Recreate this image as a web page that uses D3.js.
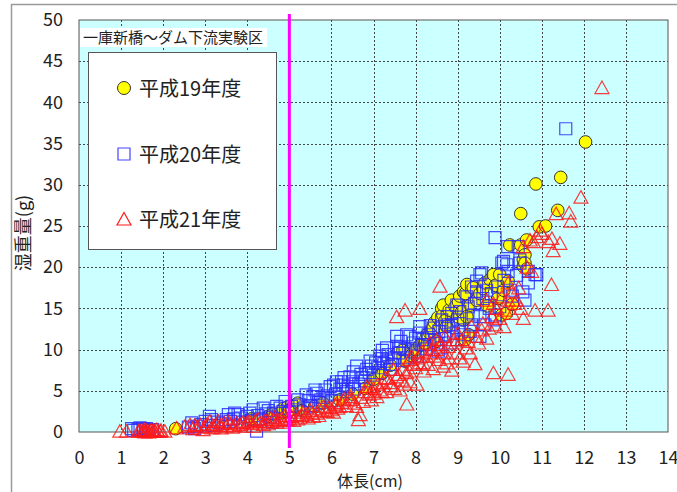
<!DOCTYPE html>
<html>
<head>
<meta charset="utf-8">
<script src="https://cdn.jsdelivr.net/npm/d3@7"></script>
<style>
  html, body { margin: 0; padding: 0; background: #fff; }
  svg text { font-family: "Noto Sans CJK JP", "Noto Sans", sans-serif; fill: #222; }
</style>
</head>
<body>
<div id="chart"></div>
<script>
// 体長(cm), 湿重量(g)
const h19 = [
  [2.3, 0.4], [4.1, 1.6], [4.5, 1.9], [4.6, 2.2], [4.8, 2.3], [4.85, 2.8], [4.95, 3.0], [5.0, 2.6],
  [5.1, 3.2], [5.2, 3.5], [5.3, 2.6], [5.6, 3.1], [5.8, 3.5], [6.2, 3.9], [6.5, 4.6], [6.8, 5.3],
  [7.0, 6.4], [7.2, 7.1], [7.4, 8.1], [7.58, 9.6], [7.7, 9.9], [7.75, 8.6], [7.9, 9.3], [8.0, 10.0],
  [8.1, 10.5], [8.22, 10.8], [8.27, 11.8], [8.34, 12.0], [8.4, 12.6], [8.45, 13.3], [8.5, 11.0],
  [8.53, 13.9], [8.58, 12.8], [8.62, 15.0], [8.65, 14.2], [8.66, 15.4], [8.7, 13.5], [8.74, 12.8],
  [8.8, 14.8], [8.85, 16.0], [8.94, 15.2], [9.0, 14.0], [9.02, 15.8], [9.05, 16.5], [9.1, 14.6],
  [9.14, 13.6], [9.14, 17.0], [9.18, 11.2], [9.18, 16.8], [9.22, 17.9], [9.22, 14.0], [9.26, 11.8],
  [9.3, 15.4], [9.37, 17.5], [9.45, 16.0], [9.53, 16.8], [9.6, 17.4], [9.65, 18.1], [9.7, 15.3],
  [9.77, 18.5], [9.85, 19.1], [9.9, 17.8], [9.95, 16.2], [10.0, 19.1], [10.05, 14.2], [10.1, 17.2],
  [10.16, 14.4], [10.2, 18.3], [10.24, 22.7], [10.3, 15.5], [10.5, 22.7], [10.5, 26.5], [10.56, 20.1],
  [10.56, 20.9], [10.6, 21.5], [10.6, 20.5], [10.64, 23.3], [10.65, 19.8], [10.86, 30.1], [10.94, 24.9],
  [11.09, 25.0], [11.38, 26.9], [11.45, 30.9], [12.04, 35.2]
];
const h20 = [
  [1.25, 0.4], [1.3, 0.2], [1.4, 0.3], [1.45, 0.5], [1.52, 0.4], [1.6, 0.4], [1.65, 0.2], [1.75, 0.3],
  [2.6, 0.6], [2.68, 1.1], [2.75, 0.4], [2.8, 0.7], [2.9, 0.9], [3.0, 1.3], [3.1, 1.9], [3.15, 1.5],
  [3.2, 0.8], [3.3, 1.2], [3.4, 1.0], [3.5, 1.5], [3.55, 2.1], [3.6, 1.3], [3.67, 1.6], [3.7, 2.3],
  [3.78, 2.1], [3.83, 1.7], [3.9, 1.2], [4.0, 1.9], [4.06, 2.3], [4.1, 1.4], [4.14, 2.7], [4.22, 0.1],
  [4.25, 2.0], [4.3, 1.6], [4.38, 2.9], [4.45, 2.2], [4.5, 2.6], [4.55, 1.8], [4.6, 1.2], [4.62, 2.3],
  [4.7, 3.1], [4.78, 2.9], [4.85, 2.5], [4.9, 3.7], [5.0, 2.4], [5.05, 3.1], [5.15, 2.7], [5.2, 3.9],
  [5.25, 3.3], [5.35, 2.9], [5.4, 4.5], [5.45, 3.8], [5.5, 3.2], [5.56, 4.3], [5.61, 5.1], [5.65, 4.7],
  [5.7, 3.6], [5.75, 3.9], [5.8, 4.2], [5.85, 5.1], [5.9, 4.4], [5.97, 5.5], [6.0, 3.8], [6.05, 5.7],
  [6.1, 4.6], [6.12, 6.1], [6.2, 5.2], [6.24, 6.1], [6.28, 5.7], [6.3, 6.6], [6.35, 4.9], [6.4, 5.5],
  [6.44, 6.7], [6.5, 6.1], [6.52, 7.3], [6.55, 5.2], [6.6, 8.0], [6.65, 5.8], [6.7, 7.0], [6.75, 6.6],
  [6.8, 6.2], [6.84, 7.6], [6.9, 7.2], [6.92, 8.6], [6.95, 8.0], [7.0, 6.9], [7.05, 8.4], [7.1, 7.8],
  [7.15, 9.2], [7.15, 7.2], [7.2, 8.9], [7.21, 9.9], [7.25, 8.3], [7.31, 8.6], [7.31, 10.2], [7.35, 9.4],
  [7.4, 7.6], [7.45, 8.2], [7.5, 9.0], [7.55, 11.6], [7.55, 10.4], [7.6, 9.6], [7.63, 10.2], [7.65, 11.0],
  [7.7, 8.7], [7.75, 10.0], [7.79, 11.8], [7.8, 9.0], [7.87, 11.6], [7.9, 9.8], [7.95, 10.8], [7.99, 9.6],
  [8.0, 11.4], [8.05, 9.2], [8.1, 12.0], [8.1, 12.8], [8.15, 10.6], [8.18, 11.2], [8.25, 10.1], [8.3, 11.8],
  [8.34, 10.6], [8.35, 12.9], [8.42, 12.6], [8.45, 11.2], [8.5, 10.8], [8.54, 9.8], [8.55, 12.2], [8.6, 10.2],
  [8.62, 13.6], [8.7, 11.8], [8.7, 12.8], [8.75, 14.0], [8.78, 13.0], [8.82, 10.8], [8.86, 14.4], [8.86, 13.0],
  [8.9, 12.0], [8.98, 11.2], [8.98, 15.4], [9.0, 13.6], [9.05, 14.6], [9.1, 12.4], [9.15, 11.8], [9.22, 16.4],
  [9.25, 15.2], [9.3, 12.2], [9.33, 17.6], [9.33, 13.0], [9.37, 14.2], [9.4, 15.6], [9.45, 17.0], [9.45, 18.3],
  [9.53, 19.1], [9.53, 14.0], [9.53, 11.6], [9.57, 19.3], [9.6, 16.2], [9.65, 13.0], [9.69, 17.2], [9.75, 15.0],
  [9.8, 16.8], [9.89, 14.2], [9.89, 13.6], [9.89, 23.6], [9.95, 17.6], [10.0, 15.2], [10.05, 20.5],
  [10.09, 20.7], [10.1, 18.4], [10.17, 20.3], [10.2, 19.5], [10.19, 22.5], [10.25, 17.2], [10.3, 16.5],
  [10.4, 19.0], [10.44, 22.5], [10.48, 20.5], [10.48, 20.9], [10.55, 17.0], [10.6, 16.0], [10.68, 18.1],
  [10.68, 19.5], [10.84, 19.1], [10.88, 19.1], [11.57, 36.8]
];
const h21 = [
  [0.97, 0.1], [1.13, 0.1], [1.41, 0.1], [1.45, 0.2], [1.5, 0.1], [1.53, 0.1], [1.55, 0.3], [1.57, 0.0],
  [1.6, 0.1], [1.62, 0.2], [1.66, 0.0], [1.69, 0.1], [1.72, 0.3], [1.75, 0.1], [1.78, 0.2], [1.81, 0.1],
  [1.85, 0.3], [1.88, 0.1], [1.93, 0.1], [1.95, 0.2], [2.04, 0.1],
  [2.32, 0.5], [2.52, 0.7], [2.64, 0.9], [2.7, 0.4], [2.75, 0.8], [2.8, 0.6], [2.88, 0.9], [2.95, 0.3],
  [3.0, 0.7], [3.05, 1.0], [3.11, 1.3], [3.15, 0.5], [3.2, 0.6], [3.25, 0.9], [3.31, 1.3], [3.35, 0.8],
  [3.38, 0.5], [3.45, 1.1], [3.51, 0.7], [3.55, 1.2], [3.6, 1.0], [3.65, 0.6], [3.7, 0.8], [3.75, 1.1],
  [3.83, 0.9], [3.9, 1.2], [3.95, 0.7], [3.99, 1.1], [4.05, 1.3], [4.1, 1.0], [4.15, 0.7], [4.2, 1.4],
  [4.25, 1.6], [4.3, 1.1], [4.38, 0.9], [4.4, 1.3], [4.46, 1.3], [4.5, 1.0], [4.55, 1.6], [4.62, 1.5],
  [4.65, 1.8], [4.7, 1.2], [4.75, 1.4], [4.82, 1.7], [4.85, 1.2], [4.9, 2.0], [4.94, 1.5], [5.0, 1.6],
  [5.05, 1.9], [5.1, 1.4], [5.17, 2.1], [5.2, 1.6], [5.25, 1.8], [5.3, 2.0], [5.32, 2.4], [5.41, 2.1],
  [5.45, 1.7], [5.5, 2.6], [5.55, 2.3], [5.57, 1.9], [5.65, 2.3], [5.7, 2.0], [5.72, 2.8], [5.81, 3.1],
  [5.85, 2.6], [5.9, 2.5], [5.95, 3.0], [6.0, 2.7], [6.05, 2.4], [6.09, 3.3], [6.13, 3.5], [6.15, 2.9],
  [6.2, 3.1], [6.25, 3.6], [6.3, 4.0], [6.35, 3.2], [6.44, 3.9], [6.44, 4.3], [6.5, 4.0], [6.55, 3.5],
  [6.6, 3.1], [6.64, 1.5], [6.68, 2.1], [6.7, 4.2], [6.76, 3.7], [6.8, 4.9], [6.84, 5.5], [6.9, 4.6],
  [6.92, 5.5], [6.95, 3.9], [7.0, 4.7], [7.0, 5.3], [7.08, 4.3], [7.1, 5.8], [7.15, 5.1], [7.2, 4.9],
  [7.22, 6.0], [7.28, 6.6], [7.31, 4.9], [7.35, 6.5], [7.4, 6.0], [7.42, 5.6], [7.47, 7.6], [7.5, 5.3],
  [7.55, 6.7], [7.55, 14.0], [7.6, 7.0], [7.63, 5.1], [7.67, 6.3], [7.7, 7.6], [7.75, 14.8], [7.75, 5.8],
  [7.79, 3.4], [7.79, 7.2], [7.85, 7.4], [7.87, 6.1], [7.87, 8.8], [7.9, 9.2], [7.95, 8.2], [8.0, 7.8],
  [8.03, 5.8], [8.05, 9.0], [8.1, 8.4], [8.1, 15.0], [8.15, 9.8], [8.18, 8.4], [8.2, 7.4], [8.26, 9.2],
  [8.3, 8.2], [8.34, 9.6], [8.34, 10.8], [8.4, 10.0], [8.42, 7.7], [8.45, 9.2], [8.5, 10.0], [8.5, 11.2],
  [8.55, 8.8], [8.58, 17.7], [8.6, 10.6], [8.66, 9.6], [8.66, 8.0], [8.7, 11.6], [8.74, 8.4], [8.78, 10.4],
  [8.8, 9.0], [8.86, 7.5], [8.9, 11.2], [8.95, 10.8], [8.98, 9.6], [9.0, 12.0], [9.05, 9.0], [9.1, 11.2],
  [9.13, 8.6], [9.2, 10.2], [9.25, 11.0], [9.3, 9.6], [9.33, 12.8], [9.41, 8.3], [9.45, 11.6], [9.5, 10.8],
  [9.57, 12.4], [9.6, 13.2], [9.69, 11.4], [9.69, 16.0], [9.75, 12.6], [9.81, 14.0], [9.85, 7.2],
  [9.85, 15.6], [9.9, 13.0], [9.93, 15.0], [10.0, 13.8], [10.05, 16.4], [10.1, 12.8], [10.13, 14.8],
  [10.2, 7.0], [10.2, 16.0], [10.2, 18.1], [10.28, 17.0], [10.3, 14.4], [10.36, 15.6], [10.4, 16.0],
  [10.45, 17.5], [10.5, 15.0], [10.56, 13.8], [10.56, 22.5], [10.65, 20.0], [10.72, 23.3], [10.76, 19.5],
  [10.8, 23.1], [10.84, 14.8], [10.88, 23.7], [10.96, 24.5], [11.0, 24.1], [11.15, 14.8], [11.16, 23.1],
  [11.23, 17.9], [11.24, 23.5], [11.27, 22.0], [11.34, 26.5], [11.43, 22.9], [11.65, 26.6], [11.69, 25.6],
  [11.93, 28.5], [12.43, 41.8]
];
const xTicks = d3.range(0, 15, 1);
const yTicks = d3.range(0, 55, 5);
const seriesNames = ['平成19年度', '平成20年度', '平成21年度'];
const areaName = '一庫新橋～ダム下流実験区';
const refLength = 5;

const W = 677, H = 492;
const plotL = 79, plotR = 668, plotT = 20, plotB = 432;

const svg = d3.select('#chart').append('svg').attr('width', W).attr('height', H);
svg.append('rect').attr('x', 11.5).attr('y', 4.5).attr('width', W + 20).attr('height', H + 20)
  .attr('fill', '#fff').attr('stroke', '#9a9a9a').attr('stroke-width', 1.5);

const x = d3.scaleLinear().domain([0, 14]).range([plotL, plotR]);
const y = d3.scaleLinear().domain([0, 50]).range([plotB, plotT]);

svg.append('rect').attr('x', plotL).attr('y', plotT).attr('width', plotR - plotL).attr('height', plotB - plotT)
  .attr('fill', '#ccffff');

// grid
const grid = svg.append('g').attr('stroke', '#444').attr('stroke-dasharray', '2,2').attr('stroke-width', 1);
grid.selectAll('.gx').data(xTicks.slice(1, -1)).join('line')
  .attr('x1', (d) => Math.round(x(d)) + 0.5).attr('x2', (d) => Math.round(x(d)) + 0.5)
  .attr('y1', plotT).attr('y2', plotB);
grid.selectAll('.gy').data(yTicks.slice(1, -1)).join('line')
  .attr('x1', plotL).attr('x2', plotR)
  .attr('y1', (d) => Math.round(y(d)) + 0.5).attr('y2', (d) => Math.round(y(d)) + 0.5);

svg.append('rect').attr('x', plotL).attr('y', plotT).attr('width', plotR - plotL).attr('height', plotB - plotT)
  .attr('fill', 'none').attr('stroke', '#555').attr('stroke-width', 1);

// axes
const xAxis = svg.append('g').attr('transform', `translate(0,${plotB})`)
  .call(d3.axisBottom(x).tickValues(xTicks).tickSize(0).tickPadding(19).tickFormat(d3.format('d')));
const yAxis = svg.append('g').attr('transform', `translate(${plotL},0)`)
  .call(d3.axisLeft(y).tickValues(yTicks).tickSize(0).tickPadding(16).tickFormat(d3.format('d')));
[xAxis, yAxis].forEach((a) => {
  a.select('.domain').remove();
  a.selectAll('text').attr('font-size', 18).attr('fill', '#222')
    .attr('font-family', '"Liberation Sans", Arial, sans-serif');
});

const tri = 'M0,-6.5L7,6L-7,6Z';
const sq = d3.symbol().type(d3.symbolSquare).size(144)();

const g19 = svg.append('g');
g19.selectAll('circle').data(h19).join('circle')
  .attr('cx', (d) => x(d[0])).attr('cy', (d) => y(d[1])).attr('r', 6.3)
  .attr('fill', '#ffff00').attr('stroke', '#333').attr('stroke-width', 1);

const g20 = svg.append('g');
g20.selectAll('path').data(h20).join('path')
  .attr('d', sq).attr('transform', (d) => `translate(${x(d[0])},${y(d[1])})`)
  .attr('fill', 'none').attr('stroke', '#2a2aff').attr('stroke-opacity', 0.85).attr('stroke-width', 1.2);

const g21 = svg.append('g');
g21.selectAll('path').data(h21).join('path')
  .attr('d', tri).attr('transform', (d) => `translate(${x(d[0])},${y(d[1])})`)
  .attr('fill', 'none').attr('stroke', '#ff1a1a').attr('stroke-opacity', 0.85).attr('stroke-width', 1.2);

// 5cm reference line
svg.append('line').attr('x1', x(refLength)).attr('x2', x(refLength))
  .attr('y1', y(50) - 6).attr('y2', y(0) + 16)
  .attr('stroke', '#ff00ff').attr('stroke-width', 3);

// area label
svg.append('rect').attr('x', 80).attr('y', 28).attr('width', 187).attr('height', 19).attr('fill', '#fff');
svg.append('text').attr('x', 83).attr('y', 43).attr('font-size', 15).text(areaName);

// legend
const lg = svg.append('g');
lg.append('rect').attr('x', 88.5).attr('y', 52.5).attr('width', 188).attr('height', 197)
  .attr('fill', '#fff').attr('stroke', '#555');
const ly = [88, 154, 219];
lg.append('circle').attr('cx', 124).attr('cy', ly[0]).attr('r', 6.5)
  .attr('fill', '#ffff00').attr('stroke', '#333');
lg.append('path').attr('d', sq).attr('transform', `translate(124,${ly[1]})`)
  .attr('fill', 'none').attr('stroke', '#4444ff').attr('stroke-width', 1.2);
lg.append('path').attr('d', tri).attr('transform', `translate(124,${ly[2]})`)
  .attr('fill', 'none').attr('stroke', '#ff1a1a').attr('stroke-width', 1.2);
lg.selectAll('text.lab').data(seriesNames).join('text')
  .attr('x', 139).attr('y', (d, i) => ly[i] + 8).attr('font-size', 20).text((d) => d);

// axis titles
svg.append('text').attr('x', 370).attr('y', 487).attr('text-anchor', 'middle').attr('font-size', 16).text('体長(cm)');
svg.append('text').attr('transform', 'translate(30,233) rotate(-90)').attr('text-anchor', 'middle')
  .attr('font-size', 18).text('湿重量(g)');
</script>
</body>
</html>
